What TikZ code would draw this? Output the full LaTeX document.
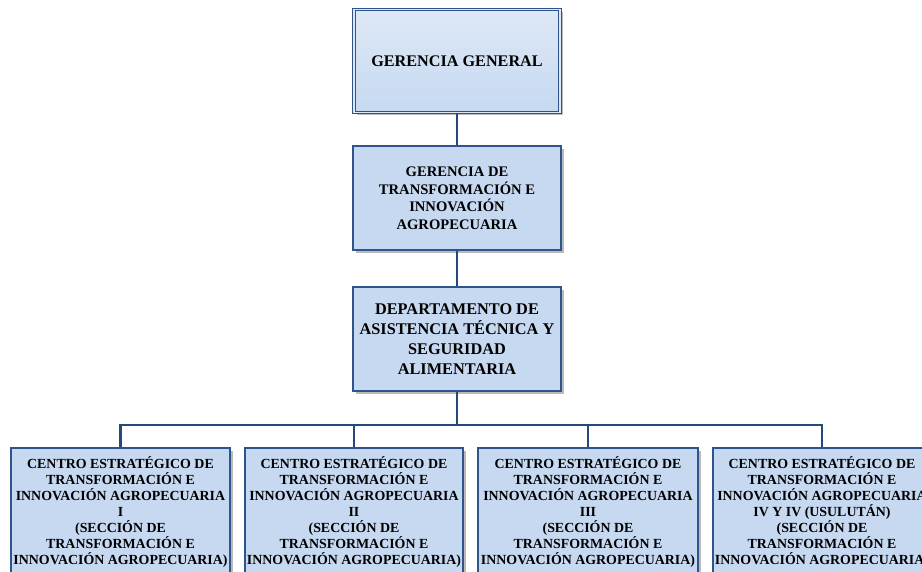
\documentclass[tikz,border=0pt]{standalone}
\usepackage{fontspec}
\setmainfont{Liberation Serif}
\usetikzlibrary{shadows}
\definecolor{boxfill}{RGB}{198,217,241}
\definecolor{boxtop}{RGB}{222,232,245}
\definecolor{boxline}{RGB}{47,84,140}
\definecolor{conn}{RGB}{38,72,122}
\tikzset{
  orgbox/.style={rectangle, draw=boxline, line width=1.2pt, fill=boxfill,
    drop shadow={shadow xshift=3pt, shadow yshift=-3pt, fill=black!45, opacity=0.6},
    align=center, font=\bfseries, inner sep=2pt},
  topbox/.style={rectangle, draw=boxline, line width=1pt, double=boxtop, double distance=1.6pt,
    top color=boxtop, bottom color=boxfill,
    drop shadow={shadow xshift=3pt, shadow yshift=-3pt, fill=black!45, opacity=0.6},
    align=center, font=\bfseries},
  bottxt/.style={align=center, font=\fontsize{13.9}{16}\selectfont\bfseries, inner sep=0pt, anchor=north},
  connector/.style={draw=conn, line width=2.7pt}
}
\begin{document}
\begin{tikzpicture}[x=1pt,y=-1pt]
\clip (0,0) rectangle (922,572);
\fill[white] (0,0) rectangle (922,572);

\node[topbox, minimum width=206pt, minimum height=103pt,
  font=\fontsize{16.2}{19}\selectfont\bfseries] (gg) at (457,61) {GERENCIA GENERAL};
\node[orgbox, minimum width=208pt, minimum height=104pt,
  font=\fontsize{14.6}{17.5}\selectfont\bfseries] (gt) at (457,198)
  {GERENCIA DE\\TRANSFORMACIÓN E\\INNOVACIÓN\\AGROPECUARIA};
\node[orgbox, minimum width=208pt, minimum height=104pt,
  font=\fontsize{16.3}{20}\selectfont\bfseries] (dat) at (457,339)
  {DEPARTAMENTO DE\\ASISTENCIA TÉCNICA Y\\SEGURIDAD\\ALIMENTARIA};

\node[orgbox, minimum width=219pt, minimum height=140pt] (b1) at (120.5,518) {};
\node[orgbox, minimum width=218pt, minimum height=140pt] (b2) at (354,518) {};
\node[orgbox, minimum width=220pt, minimum height=140pt] (b3) at (588,518) {};
\node[orgbox, minimum width=218pt, minimum height=140pt] (b4) at (822,518) {};

\node[bottxt] (t1) at (120.5,456) {CENTRO ESTRATÉGICO DE\\TRANSFORMACIÓN E\\INNOVACIÓN AGROPECUARIA\\I\\(SECCIÓN DE\\TRANSFORMACIÓN E\\INNOVACIÓN AGROPECUARIA)};
\node[bottxt] (t2) at (354,456) {CENTRO ESTRATÉGICO DE\\TRANSFORMACIÓN E\\INNOVACIÓN AGROPECUARIA\\II\\(SECCIÓN DE\\TRANSFORMACIÓN E\\INNOVACIÓN AGROPECUARIA)};
\node[bottxt] (t3) at (588,456) {CENTRO ESTRATÉGICO DE\\TRANSFORMACIÓN E\\INNOVACIÓN AGROPECUARIA\\III\\(SECCIÓN DE\\TRANSFORMACIÓN E\\INNOVACIÓN AGROPECUARIA)};
\node[bottxt] (t4) at (822,456) {CENTRO ESTRATÉGICO DE\\TRANSFORMACIÓN E\\INNOVACIÓN AGROPECUARIA\\IV Y IV (USULUTÁN)\\(SECCIÓN DE\\TRANSFORMACIÓN E\\INNOVACIÓN AGROPECUARIA)};

\coordinate (bus) at (457,425);
\draw[connector] (gg.south) -- (gt.north);
\draw[connector] (gt.south) -- (dat.north);
\draw[connector] (dat.south) -- (bus);
\draw[connector] (b1.north) -- (b1.north |- bus) -- (b4.north |- bus) -- (b4.north);
\draw[connector] (b2.north) -- (b2.north |- bus);
\draw[connector] (b3.north) -- (b3.north |- bus);
\end{tikzpicture}
\end{document}
